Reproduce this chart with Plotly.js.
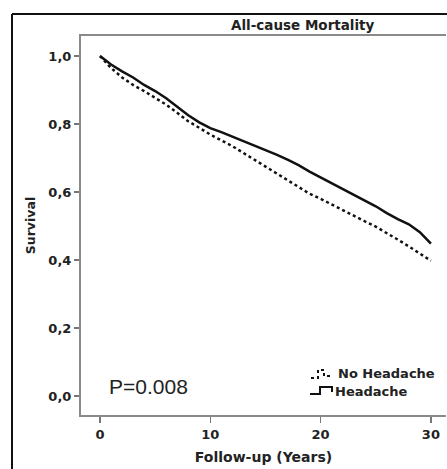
<!DOCTYPE html>
<html>
<head>
<meta charset="utf-8">
<script src="https://cdn.plot.ly/plotly-3.0.1.min.js"></script>
<style>
html,body{margin:0;padding:0;background:#fff;}
#chart{width:447px;height:469px;}
</style>
</head>
<body>
<div id="chart"></div>
<script>
// Follow-up years
const yearsHeadache = [0,1,2,3,4,5,6,7,8,9,10,11,12,13,14,15,16,17,18,19,20,21,22,23,24,25,26,27,28,29,29.5,30];
const survivalHeadache = [1.0,0.975,0.955,0.937,0.915,0.897,0.876,0.850,0.826,0.805,0.788,0.776,0.763,0.750,0.738,0.724,0.710,0.695,0.679,0.660,0.643,0.625,0.607,0.590,0.574,0.558,0.538,0.520,0.505,0.482,0.465,0.448];
const yearsNoHeadache = [0,1,2,3,4,5,6,7,8,9,10,11,12,13,14,15,16,17,18,19,20,21,22,23,24,25,26,27,28,29,30];
const survivalNoHeadache = [1.0,0.965,0.937,0.915,0.897,0.878,0.857,0.833,0.808,0.789,0.769,0.752,0.735,0.715,0.695,0.675,0.656,0.636,0.617,0.595,0.580,0.563,0.547,0.531,0.514,0.498,0.480,0.460,0.440,0.420,0.398];
const xTicks = [0,10,20,30];
const yTicks = [0,0.2,0.4,0.6,0.8,1.0];
const seriesNames = ["No Headache","Headache"];

const W = 447, H = 469;
const M = {l:81, r:1, t:36, b:54};
const PW = W - M.l - M.r, PH = H - M.t - M.b;
const px = x => (x - M.l) / PW;
const py = y => (H - M.b - y) / PH;

const bold = s => ({family:"DejaVu Sans, sans-serif", size:s, color:"#222", weight:"bold"});

const traces = [
  {x: yearsNoHeadache, y: survivalNoHeadache, mode:"lines", name:seriesNames[0],
   line:{color:"#111", width:2.5, dash:"dot"}, showlegend:false},
  {x: yearsHeadache, y: survivalHeadache, mode:"lines", name:seriesNames[1],
   line:{color:"#111", width:2.5}, showlegend:false}
];

const shapes = [
  // outer frame
  {type:"line", xref:"paper", yref:"paper", x0:px(12), x1:px(12), y0:py(14), y1:py(480), line:{color:"#111", width:2}},
  {type:"line", xref:"paper", yref:"paper", x0:px(12), x1:px(460), y0:py(14), y1:py(14), line:{color:"#111", width:2}},
  // legend symbols
  {type:"path", xref:"paper", yref:"paper",
   path:`M${px(311)},${py(378)} L${px(318)},${py(378)} L${px(318)},${py(370)} L${px(324)},${py(370)} L${px(324)},${py(376)} L${px(330)},${py(376)}`,
   line:{color:"#111", width:2, dash:"dot"}},
  {type:"path", xref:"paper", yref:"paper",
   path:`M${px(310)},${py(394)} L${px(320)},${py(394)} L${px(320)},${py(387)} L${px(332)},${py(387)} L${px(332)},${py(392)}`,
   line:{color:"#111", width:2}}
];

const annotations = [
  {text:"All-cause Mortality", xref:"paper", yref:"paper", x:px(303), y:py(25), xanchor:"center", yanchor:"middle",
   showarrow:false, font:bold(13.5)},
  {text:"P=0.008", xref:"paper", yref:"paper", x:px(107), y:py(386), xanchor:"left", yanchor:"middle",
   showarrow:false, font:{family:"Liberation Sans, Arial, sans-serif", size:21, color:"#222"}},
  {text:seriesNames[0], xref:"paper", yref:"paper", x:px(336), y:py(373), xanchor:"left", yanchor:"middle",
   showarrow:false, font:bold(13)},
  {text:seriesNames[1], xref:"paper", yref:"paper", x:px(333), y:py(391), xanchor:"left", yanchor:"middle",
   showarrow:false, font:bold(13)}
];

const layout = {
  width: W, height: H,
  margin: M,
  paper_bgcolor:"#fff", plot_bgcolor:"#fff",
  separators: ",.",
  xaxis: {
    range:[(81-100)/11.03, (446-100)/11.03],
    tickvals:xTicks, ticktext:xTicks.map(String),
    showgrid:false, zeroline:false,
    showline:true, linecolor:"#8a8a8a", linewidth:2, mirror:true,
    ticks:"outside", ticklen:6, tickwidth:1.5, tickcolor:"#777",
    tickfont:bold(13),
    title:{text:"Follow-up (Years)", font:bold(14), standoff:12}
  },
  yaxis: {
    range:[-0.056, 1.059],
    tickvals:yTicks, tickformat:".1f",
    showgrid:false, zeroline:false,
    showline:true, linecolor:"#8a8a8a", linewidth:2,
    ticks:"outside", ticklen:5, tickwidth:1.5, tickcolor:"#777",
    tickfont:bold(13),
    title:{text:"Survival", font:bold(12.5), standoff:10}
  },
  shapes: shapes,
  annotations: annotations,
  showlegend:false
};

Plotly.newPlot("chart", traces, layout, {staticPlot:true, displayModeBar:false});
</script>
</body>
</html>
